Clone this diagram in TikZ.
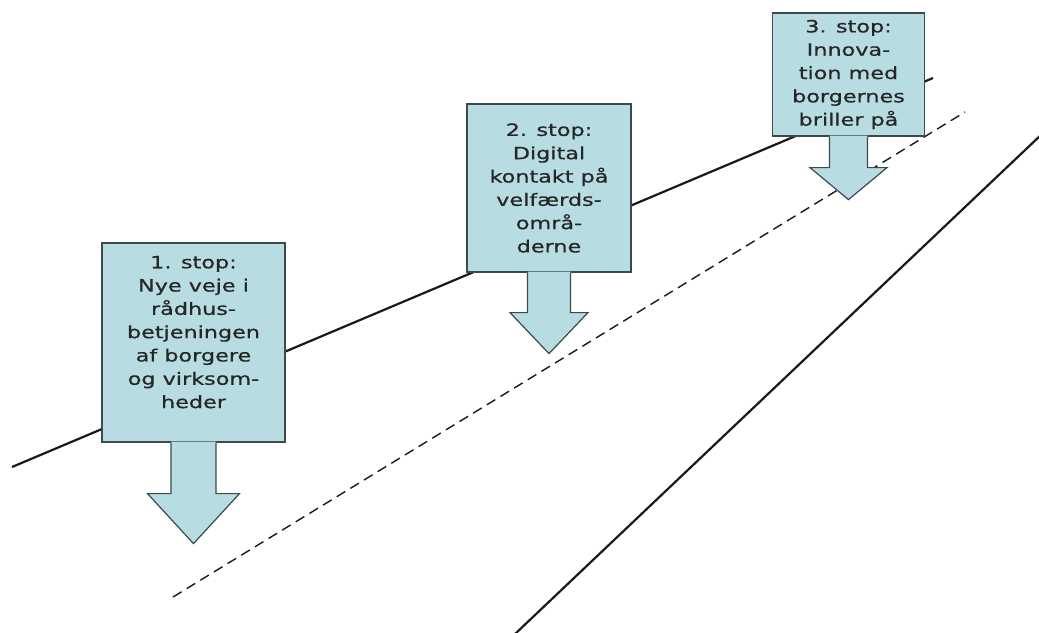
\documentclass[tikz,border=0pt]{standalone}
\usepackage{fontspec}
\newfontfamily\stopfont[FakeStretch=1.32,FakeBold=0.7]{DejaVu Sans}
\usepackage{xcolor}
\definecolor{stopfill}{HTML}{B7DDE3}
\definecolor{stopline}{HTML}{3C4A4C}
\usetikzlibrary{calc}

% arrow below a stop box: node, shaft half width, head half width, head top, tip
\newcommand{\stoparrow}[5]{%
  \fill[stopfill] ($(#1.south)+(-#2,-1)$) -- ($(#1.south)+(-#2,#4)$) -- ($(#1.south)+(-#3,#4)$)
    -- ($(#1.south)+(0,#5)$) -- ($(#1.south)+(#3,#4)$) -- ($(#1.south)+(#2,#4)$)
    -- ($(#1.south)+(#2,-1)$) -- cycle;
  \draw[stopedge] ($(#1.south)+(-#2,0)$) -- ($(#1.south)+(-#2,#4)$) -- ($(#1.south)+(-#3,#4)$)
    -- ($(#1.south)+(0,#5)$) -- ($(#1.south)+(#3,#4)$) -- ($(#1.south)+(#2,#4)$)
    -- ($(#1.south)+(#2,0)$);}

\begin{document}
\begin{tikzpicture}[
  x=1pt, y=-1pt,
  road/.style={line width=2.2pt, black!90},
  lane/.style={line width=1.4pt, black!90, dash pattern=on 10pt off 6pt},
  stopedge/.style={draw=stopline, line width=1.2pt, line join=miter},
  stopbox/.style={stopedge, fill=stopfill, align=center, inner sep=0pt,
    text=black!85, font=\stopfont\fontsize{16.9}{23.3}\selectfont}
]
\useasboundingbox (0,0) rectangle (1039,632);

% the road
\coordinate (edgeA1) at (12,467);
\coordinate (edgeA2) at (933,78);
\coordinate (laneA1) at (173,597);
\coordinate (laneA2) at (965,112);
\coordinate (edgeB1) at (515,634);
\coordinate (edgeB2) at (1042,134);
\draw[road] (edgeA1) -- (edgeA2);
\draw[lane] (laneA1) -- (laneA2);
\draw[road] (edgeB1) -- (edgeB2);

% the three stops
\node[stopbox, minimum width=183, minimum height=199, text depth=21pt] (stop1) at (193.5,342.5)
  {1. stop:\\ Nye veje i\\ rådhus-\\ betjeningen\\ af borgere\\ og virksom-\\ heder};
\stoparrow{stop1}{22.5}{46}{51}{101}

\node[stopbox, minimum width=164, minimum height=168] (stop2) at (549,188)
  {2. stop:\\ Digital\\ kontakt på\\ velfærds-\\ områ-\\ derne};
\stoparrow{stop2}{21.5}{39}{40}{81}

\node[stopbox, minimum width=152, minimum height=123] (stop3) at (848.5,74.5)
  {3. stop:\\ Innova-\\ tion med\\ borgernes\\ briller på};
\stoparrow{stop3}{19}{38.5}{31}{63}
\end{tikzpicture}
\end{document}
